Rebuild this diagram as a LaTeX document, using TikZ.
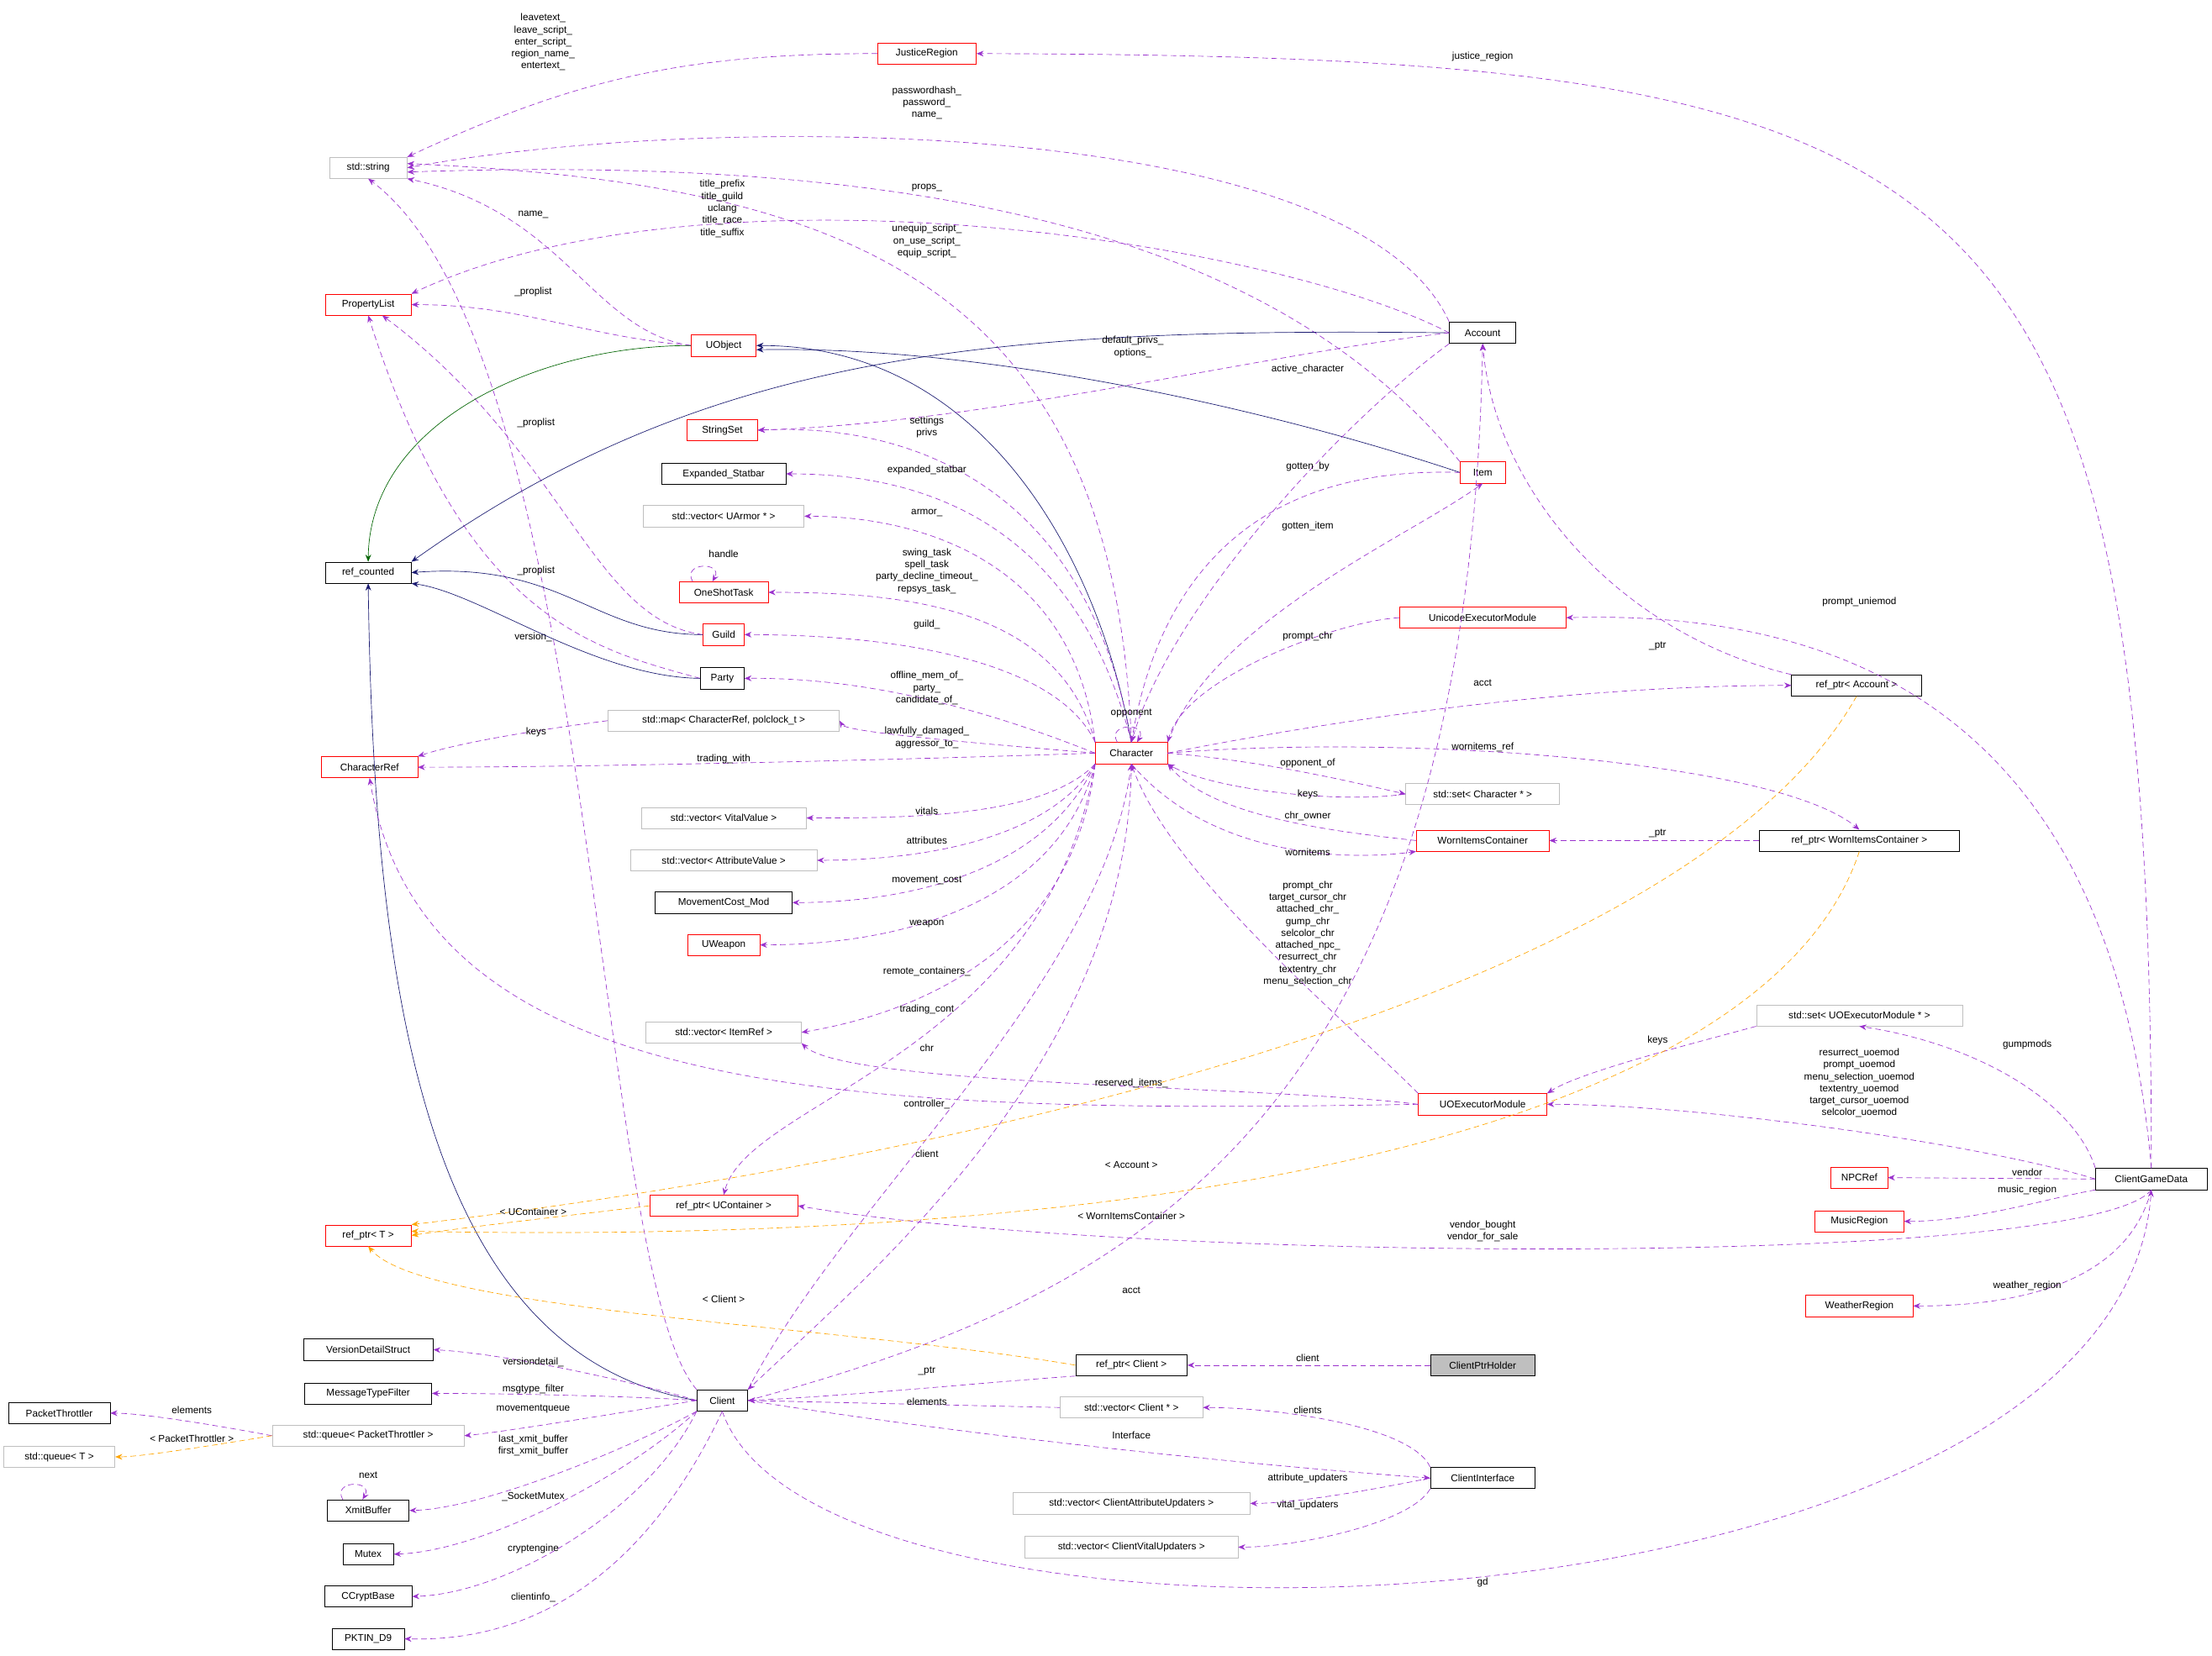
\documentclass[tikz,border=0pt]{standalone}
\usepackage{fontspec}
\setmainfont{Liberation Sans}
\usetikzlibrary{arrows.meta}
\definecolor{pur}{HTML}{9A32CD}
\definecolor{nav}{HTML}{191970}
\definecolor{grn}{HTML}{006400}
\definecolor{org}{HTML}{FFA500}
\definecolor{gbx}{HTML}{BFBFBF}
\begin{document}
\begin{tikzpicture}[x=1pt,y=-1pt,
 every node/.style={font=\fontsize{7}{8.5}\selectfont},
 bx/.style={draw=black,minimum height=15pt,inner sep=1pt},
 rb/.style={bx,draw=red},
 gb/.style={bx,draw=gbx},
 e/.style={pur,dashed,dash pattern=on 4pt off 2.5pt,-{Stealth[length=5pt,width=4pt]}},
 o/.style={org,dashed,dash pattern=on 4pt off 2.5pt,-{Stealth[length=5pt,width=4pt]}},
 n/.style={nav,-{Stealth[length=5pt,width=4pt]}},
 g/.style={grn,-{Stealth[length=5pt,width=4pt]}},
 l/.style={align=center,inner sep=0.5pt}]
\useasboundingbox (0,0) rectangle (1568,1174);
\newcommand\nd[6]{\node[#1,minimum width=#5pt] (#2) at (#3,#4) {#6};}
\nd{rb}{jr}{657}{38}{70}{JusticeRegion}
\nd{gb}{str}{261}{119}{55}{std::string}
\nd{rb}{pl}{261}{216}{61}{PropertyList}
\nd{rb}{uobj}{513}{245}{46}{UObject}
\nd{bx}{acct}{1051}{236}{47}{Account}
\nd{rb}{ss}{512}{305}{50}{StringSet}
\nd{bx}{es}{513}{336}{88}{Expanded\_Statbar}
\nd{gb}{varm}{513}{366}{114}{std::vector< UArmor * >}
\nd{bx}{refc}{261}{406}{61}{ref\_counted}
\nd{rb}{ost}{513}{420}{63}{OneShotTask}
\nd{rb}{item}{1051}{335}{32}{Item}
\nd{rb}{guild}{513}{450}{29}{Guild}
\nd{bx}{party}{512}{481}{31}{Party}
\nd{rb}{ue}{1051}{438}{118}{UnicodeExecutorModule}
\nd{bx}{rpa}{1316}{486}{92}{ref\_ptr< Account >}
\nd{gb}{map}{513}{511}{164}{std::map< CharacterRef, polclock\_t >}
\nd{rb}{cref}{262}{544}{68}{CharacterRef}
\nd{rb}{ch}{802}{534}{51}{Character}
\nd{gb}{setch}{1051}{563}{109}{std::set< Character * >}
\nd{rb}{wic}{1051}{596}{94}{WornItemsContainer}
\nd{bx}{rpwic}{1318}{596}{142}{ref\_ptr< WornItemsContainer >}
\nd{gb}{vv}{513}{580}{117}{std::vector< VitalValue >}
\nd{gb}{va}{513}{610}{132}{std::vector< AttributeValue >}
\nd{bx}{mcm}{513}{640}{97}{MovementCost\_Mod}
\nd{rb}{uw}{513}{670}{51}{UWeapon}
\nd{gb}{vir}{513}{732}{110}{std::vector< ItemRef >}
\nd{gb}{setuoe}{1318}{720}{146}{std::set< UOExecutorModule * >}
\nd{rb}{uoe}{1051}{783}{91}{UOExecutorModule}
\nd{rb}{npc}{1318}{835}{40}{NPCRef}
\nd{bx}{cgd}{1525}{836}{79}{ClientGameData}
\nd{rb}{music}{1318}{866}{63}{MusicRegion}
\nd{rb}{rpuc}{513}{855}{105}{ref\_ptr< UContainer >}
\nd{rb}{rpt}{261}{876}{61}{ref\_ptr< T >}
\nd{rb}{weather}{1318}{926}{76}{WeatherRegion}
\nd{bx}{vds}{261}{957}{92}{VersionDetailStruct}
\nd{bx}{rpc}{802}{968}{79}{ref\_ptr< Client >}
\node[bx,fill=gbx,minimum width=74pt] (cph) at (1051,968) {ClientPtrHolder};
\nd{bx}{mtf}{261}{988}{90}{MessageTypeFilter}
\nd{bx}{pt}{42}{1002}{72}{PacketThrottler}
\nd{bx}{client}{512}{993}{36}{Client}
\nd{gb}{vcl}{802}{998}{101}{std::vector< Client * >}
\nd{gb}{q}{261}{1018}{136}{std::queue< PacketThrottler >}
\nd{gb}{qt}{42}{1033}{79}{std::queue< T >}
\nd{bx}{ci}{1051}{1048}{74}{ClientInterface}
\nd{bx}{xb}{261}{1071}{58}{XmitBuffer}
\nd{gb}{vau}{802}{1066}{168}{std::vector< ClientAttributeUpdaters >}
\nd{gb}{vvu}{802}{1097}{151}{std::vector< ClientVitalUpdaters >}
\nd{bx}{mutex}{261}{1102}{36}{Mutex}
\nd{bx}{ccb}{261}{1132}{62}{CCryptBase}
\nd{bx}{pkt}{261}{1162}{51}{PKTIN\_D9}
% strings
\draw[e] (jr.west) to[out=180,in=25] (str.north east);
\node[l] at (385,30) {leavetext\_\\leave\_script\_\\enter\_script\_\\region\_name\_\\entertext\_};
\draw[e] (acct.north west) .. controls (960,80) and (500,80) .. (str.east);
\node[l] at (657,73) {passwordhash\_\\password\_\\name\_};
\draw[e] (ch.north) .. controls (790,200) and (600,130) .. ([yshift=3pt]str.east);
\node[l] at (512,148) {title\_prefix\\title\_guild\\uclang\\title\_race\\title\_suffix};
\draw[e] (item.north west) .. controls (900,160) and (640,110) .. ([yshift=-3pt]str.east);
\node[l] at (657,171) {unequip\_script\_\\on\_use\_script\_\\equip\_script\_};
\draw[e] (uobj.west) .. controls (420,235) and (400,150) .. (str.south east);
\node[l] at (378,152) {name\_};
\draw[e] (client.north west) .. controls (420,900) and (425,250) .. (str.south);
\node[l,fill=white] at (378,452) {version\_};
% property list
\draw[e] (acct.west) .. controls (900,170) and (500,110) .. (pl.north east);
\node[l] at (657,133) {props\_};
\draw[e] (uobj.west) to[out=175,in=0] (pl.east);
\node[l] at (378,207) {\_proplist};
\draw[e] (guild.west) .. controls (420,440) and (400,320) .. ([xshift=10pt]pl.south);
\node[l] at (380,300) {\_proplist};
\draw[e] (party.west) .. controls (420,460) and (330,440) .. (pl.south);
\node[l] at (380,405) {\_proplist};
% inheritance
\draw[g] (uobj.west) .. controls (380,245) and (262,300) .. (refc.north);
\draw[n] (acct.west) .. controls (700,232) and (500,250) .. (refc.north east);
\draw[n] (ch.north) .. controls (780,400) and (700,245) .. (uobj.east);
\draw[n] (item.west) .. controls (900,290) and (700,245) .. ([yshift=-3pt]uobj.east);
\draw[n] (guild.west) .. controls (420,450) and (400,398) .. (refc.east);
\draw[n] (party.west) .. controls (420,480) and (340,420) .. (refc.south east);
\draw[n] (client.west) .. controls (300,960) and (265,700) .. (refc.south);
% character out
\draw[e] (acct.west) .. controls (900,250) and (700,300) .. (ss.east);
\node[l] at (803,246) {default\_privs\_\\options\_};
\draw[e] (ch.north) .. controls (770,340) and (640,300) .. (ss.east);
\node[l] at (657,303) {settings\\privs};
\draw[e] (ch.north) .. controls (760,360) and (640,336) .. (es.east);
\node[l] at (657,333) {expanded\_statbar};
\draw[e] (ch.north west) .. controls (760,390) and (640,366) .. (varm.east);
\node[l] at (657,364) {armor\_};
\draw[e] (ch.north west) .. controls (750,430) and (640,420) .. (ost.east);
\node[l] at (657,405) {swing\_task\\spell\_task\\party\_decline\_timeout\_\\repsys\_task\_};
\draw[e] ([xshift=-22pt]ost.north) .. controls +(-8,-14) and +(8,-14) .. ([xshift=-8pt]ost.north);
\node[l] at (513,393) {handle};
\draw[e] (ch.north west) .. controls (750,470) and (640,450) .. (guild.east);
\node[l] at (657,443) {guild\_};
\draw[e] (ch.west) .. controls (740,520) and (640,480) .. (party.east);
\node[l] at (657,488) {offline\_mem\_of\_\\party\_\\candidate\_of\_};
\draw[e] (ch.west) .. controls (730,530) and (600,520) .. (map.east);
\node[l] at (657,523) {lawfully\_damaged\_\\aggressor\_to\_};
\draw[e] (map.west) .. controls (400,515) and (330,525) .. (cref.north east);
\node[l] at (380,519) {keys};
\draw[e] (ch.west) .. controls (600,540) and (400,544) .. (cref.east);
\node[l] at (513,538) {trading\_with};
\draw[e] (acct.south west) .. controls (950,300) and (830,430) .. (ch.north);
\node[l] at (927,262) {active\_character};
\draw[e] (item.west) .. controls (880,330) and (820,420) .. (ch.north);
\node[l] at (927,331) {gotten\_by};
\draw[e] (ch.north east) .. controls (860,440) and (1000,380) .. (item.south);
\node[l] at (927,373) {gotten\_item};
\draw[e] (ue.west) .. controls (950,440) and (840,480) .. (ch.north east);
\node[l] at (927,451) {prompt\_chr};
\draw[e] (ch.east) .. controls (1000,500) and (1150,486) .. (rpa.west);
\node[l] at (1051,484) {acct};
\draw[e] (rpa.north west) .. controls (1150,450) and (1060,350) .. (acct.south);
\node[l] at (1175,458) {\_ptr};
\draw[e] ([xshift=-10pt]ch.north) .. controls +(-8,-14) and +(8,-14) .. ([xshift=4pt]ch.north);
\node[l] at (802,506) {opponent};
\draw[e] (ch.east) .. controls (900,540) and (960,555) .. (setch.west);
\node[l] at (927,541) {opponent\_of};
\draw[e] (setch.west) .. controls (950,570) and (860,560) .. (ch.south east);
\node[l] at (927,563) {keys};
\draw[e] (wic.west) .. controls (950,590) and (860,580) .. (ch.south east);
\node[l] at (927,579) {chr\_owner};
\draw[e] (ch.south) .. controls (860,610) and (960,610) .. (wic.south west);
\node[l] at (927,604) {wornitems};
\draw[e] (ch.east) .. controls (1000,520) and (1260,540) .. (rpwic.north);
\node[l] at (1051,530) {wornitems\_ref};
\draw[e] (rpwic.west) -- (wic.east);
\node[l] at (1175,591) {\_ptr};
\draw[e] (ch.south west) .. controls (740,580) and (640,580) .. (vv.east);
\node[l] at (657,575) {vitals};
\draw[e] (ch.south west) .. controls (740,600) and (640,610) .. (va.east);
\node[l] at (657,596) {attributes};
\draw[e] (ch.south west) .. controls (740,620) and (640,640) .. (mcm.east);
\node[l] at (657,624) {movement\_cost};
\draw[e] (ch.south west) .. controls (750,640) and (640,670) .. (uw.east);
\node[l] at (657,655) {weapon};
\draw[e] (ch.south west) .. controls (760,680) and (640,720) .. (vir.east);
\node[l] at (657,689) {remote\_containers\_};
\draw[e] (uoe.north west) .. controls (950,720) and (830,620) .. (ch.south);
\node[l] at (927,662) {prompt\_chr\\target\_cursor\_chr\\attached\_chr\_\\gump\_chr\\selcolor\_chr\\attached\_npc\_\\resurrect\_chr\\textentry\_chr\\menu\_selection\_chr};
\draw[e] (uoe.west) .. controls (900,770) and (600,770) .. (vir.south east);
\node[l] at (802,768) {reserved\_items\_};
\draw[e] (uoe.west) .. controls (600,790) and (300,780) .. (cref.south);
\node[l] at (657,783) {controller\_};
\draw[e] (setuoe.south west) .. controls (1200,740) and (1120,760) .. (uoe.north east);
\node[l] at (1175,738) {keys};
\draw[e] (cgd.north west) .. controls (1470,780) and (1400,740) .. (setuoe.south);
\node[l] at (1437,741) {gumpmods};
\draw[e] (cgd.west) .. controls (1400,810) and (1200,783) .. (uoe.east);
\node[l] at (1318,768) {resurrect\_uoemod\\prompt\_uoemod\\menu\_selection\_uoemod\\textentry\_uoemod\\target\_cursor\_uoemod\\selcolor\_uoemod};
\draw[e] (cgd.north) .. controls (1525,100) and (1400,40) .. (jr.east);
\node[l] at (1051,40) {justice\_region};
\draw[e] (cgd.north) .. controls (1505,600) and (1400,430) .. (ue.east);
\node[l] at (1318,427) {prompt\_uniemod};
\draw[e] (cgd.west) -- (npc.east);
\node[l] at (1437,831) {vendor};
\draw[e] (cgd.south west) .. controls (1450,850) and (1400,866) .. (music.east);
\node[l] at (1437,844) {music\_region};
\draw[e] (cgd.south) .. controls (1480,900) and (800,895) .. (rpuc.east);
\node[l] at (1051,873) {vendor\_bought\\vendor\_for\_sale};
\draw[e] (cgd.south) .. controls (1510,900) and (1450,926) .. (weather.east);
\node[l] at (1437,912) {weather\_region};
\draw[e] (ch.south west) .. controls (740,750) and (530,780) .. (rpuc.north);
\node[l] at (657,716) {trading\_cont};
\draw[e] (client.north east) .. controls (600,850) and (780,700) .. (ch.south);
\node[l] at (657,743) {chr};
\draw[e] (ch.south) .. controls (800,750) and (620,900) .. (client.north east);
\node[l] at (657,818) {client};
\draw[e] (client.east) .. controls (800,920) and (1040,800) .. (acct.south);
\node[l] at (802,915) {acct};
% templates
\draw[o] (rpa.south) .. controls (1200,700) and (700,820) .. (rpt.north east);
\node[l] at (802,826) {< Account >};
\draw[o] (rpuc.west) .. controls (420,860) and (330,870) .. (rpt.east);
\node[l] at (378,859) {< UContainer >};
\draw[o] (rpwic.south) .. controls (1260,780) and (900,885) .. ([yshift=3pt]rpt.east);
\node[l] at (802,862) {< WornItemsContainer >};
\draw[o] (rpc.west) .. controls (600,940) and (300,930) .. (rpt.south);
\node[l] at (513,921) {< Client >};
\draw[e] (cph.west) -- (rpc.east);
\node[l] at (927,963) {client};
\draw[e] (rpc.south west) .. controls (700,980) and (600,990) .. (client.east);
\node[l] at (657,972) {\_ptr};
\draw[e] (vcl.west) -- (client.east);
\node[l] at (657,994) {elements};
\draw[e] (ci.north west) .. controls (1000,1010) and (900,998) .. (vcl.east);
\node[l] at (927,1000) {clients};
\draw[e] (client.east) .. controls (700,1020) and (900,1040) .. (ci.west);
\node[l] at (802,1018) {Interface};
\draw[e] (ci.west) .. controls (980,1055) and (920,1066) .. (vau.east);
\node[l] at (927,1048) {attribute\_updaters};
\draw[e] (ci.south west) .. controls (1000,1080) and (920,1097) .. (vvu.east);
\node[l] at (927,1067) {vital\_updaters};
% client left
\draw[e] (client.west) .. controls (450,980) and (360,960) .. (vds.east);
\node[l] at (378,966) {versiondetail\_};
\draw[e] (client.west) .. controls (450,990) and (360,988) .. (mtf.east);
\node[l] at (378,985) {msgtype\_filter};
\draw[e] (client.west) .. controls (450,1000) and (360,1015) .. (q.east);
\node[l] at (378,999) {movementqueue};
\draw[e] (q.west) .. controls (150,1010) and (100,1002) .. (pt.east);
\node[l] at (136,1000) {elements};
\draw[o] (q.west) .. controls (150,1025) and (100,1033) .. (qt.east);
\node[l] at (136,1020) {< PacketThrottler >};
\draw[e] (client.south west) .. controls (440,1030) and (340,1070) .. (xb.east);
\node[l] at (378,1025) {last\_xmit\_buffer\\first\_xmit\_buffer};
\draw[e] ([xshift=-18pt]xb.north) .. controls +(-8,-14) and +(8,-14) .. ([xshift=-4pt]xb.north);
\node[l] at (261,1046) {next};
\draw[e] (client.south west) .. controls (440,1050) and (340,1100) .. (mutex.east);
\node[l] at (378,1061) {\_SocketMutex};
\draw[e] (client.south west) .. controls (460,1070) and (360,1130) .. (ccb.east);
\node[l] at (378,1098) {cryptengine};
\draw[e] (client.south) .. controls (470,1090) and (400,1165) .. (pkt.east);
\node[l] at (378,1133) {clientinfo\_};
\draw[e] (client.south) .. controls (580,1200) and (1500,1170) .. (cgd.south);
\node[l] at (1051,1122) {gd};
\end{tikzpicture}
\end{document}
